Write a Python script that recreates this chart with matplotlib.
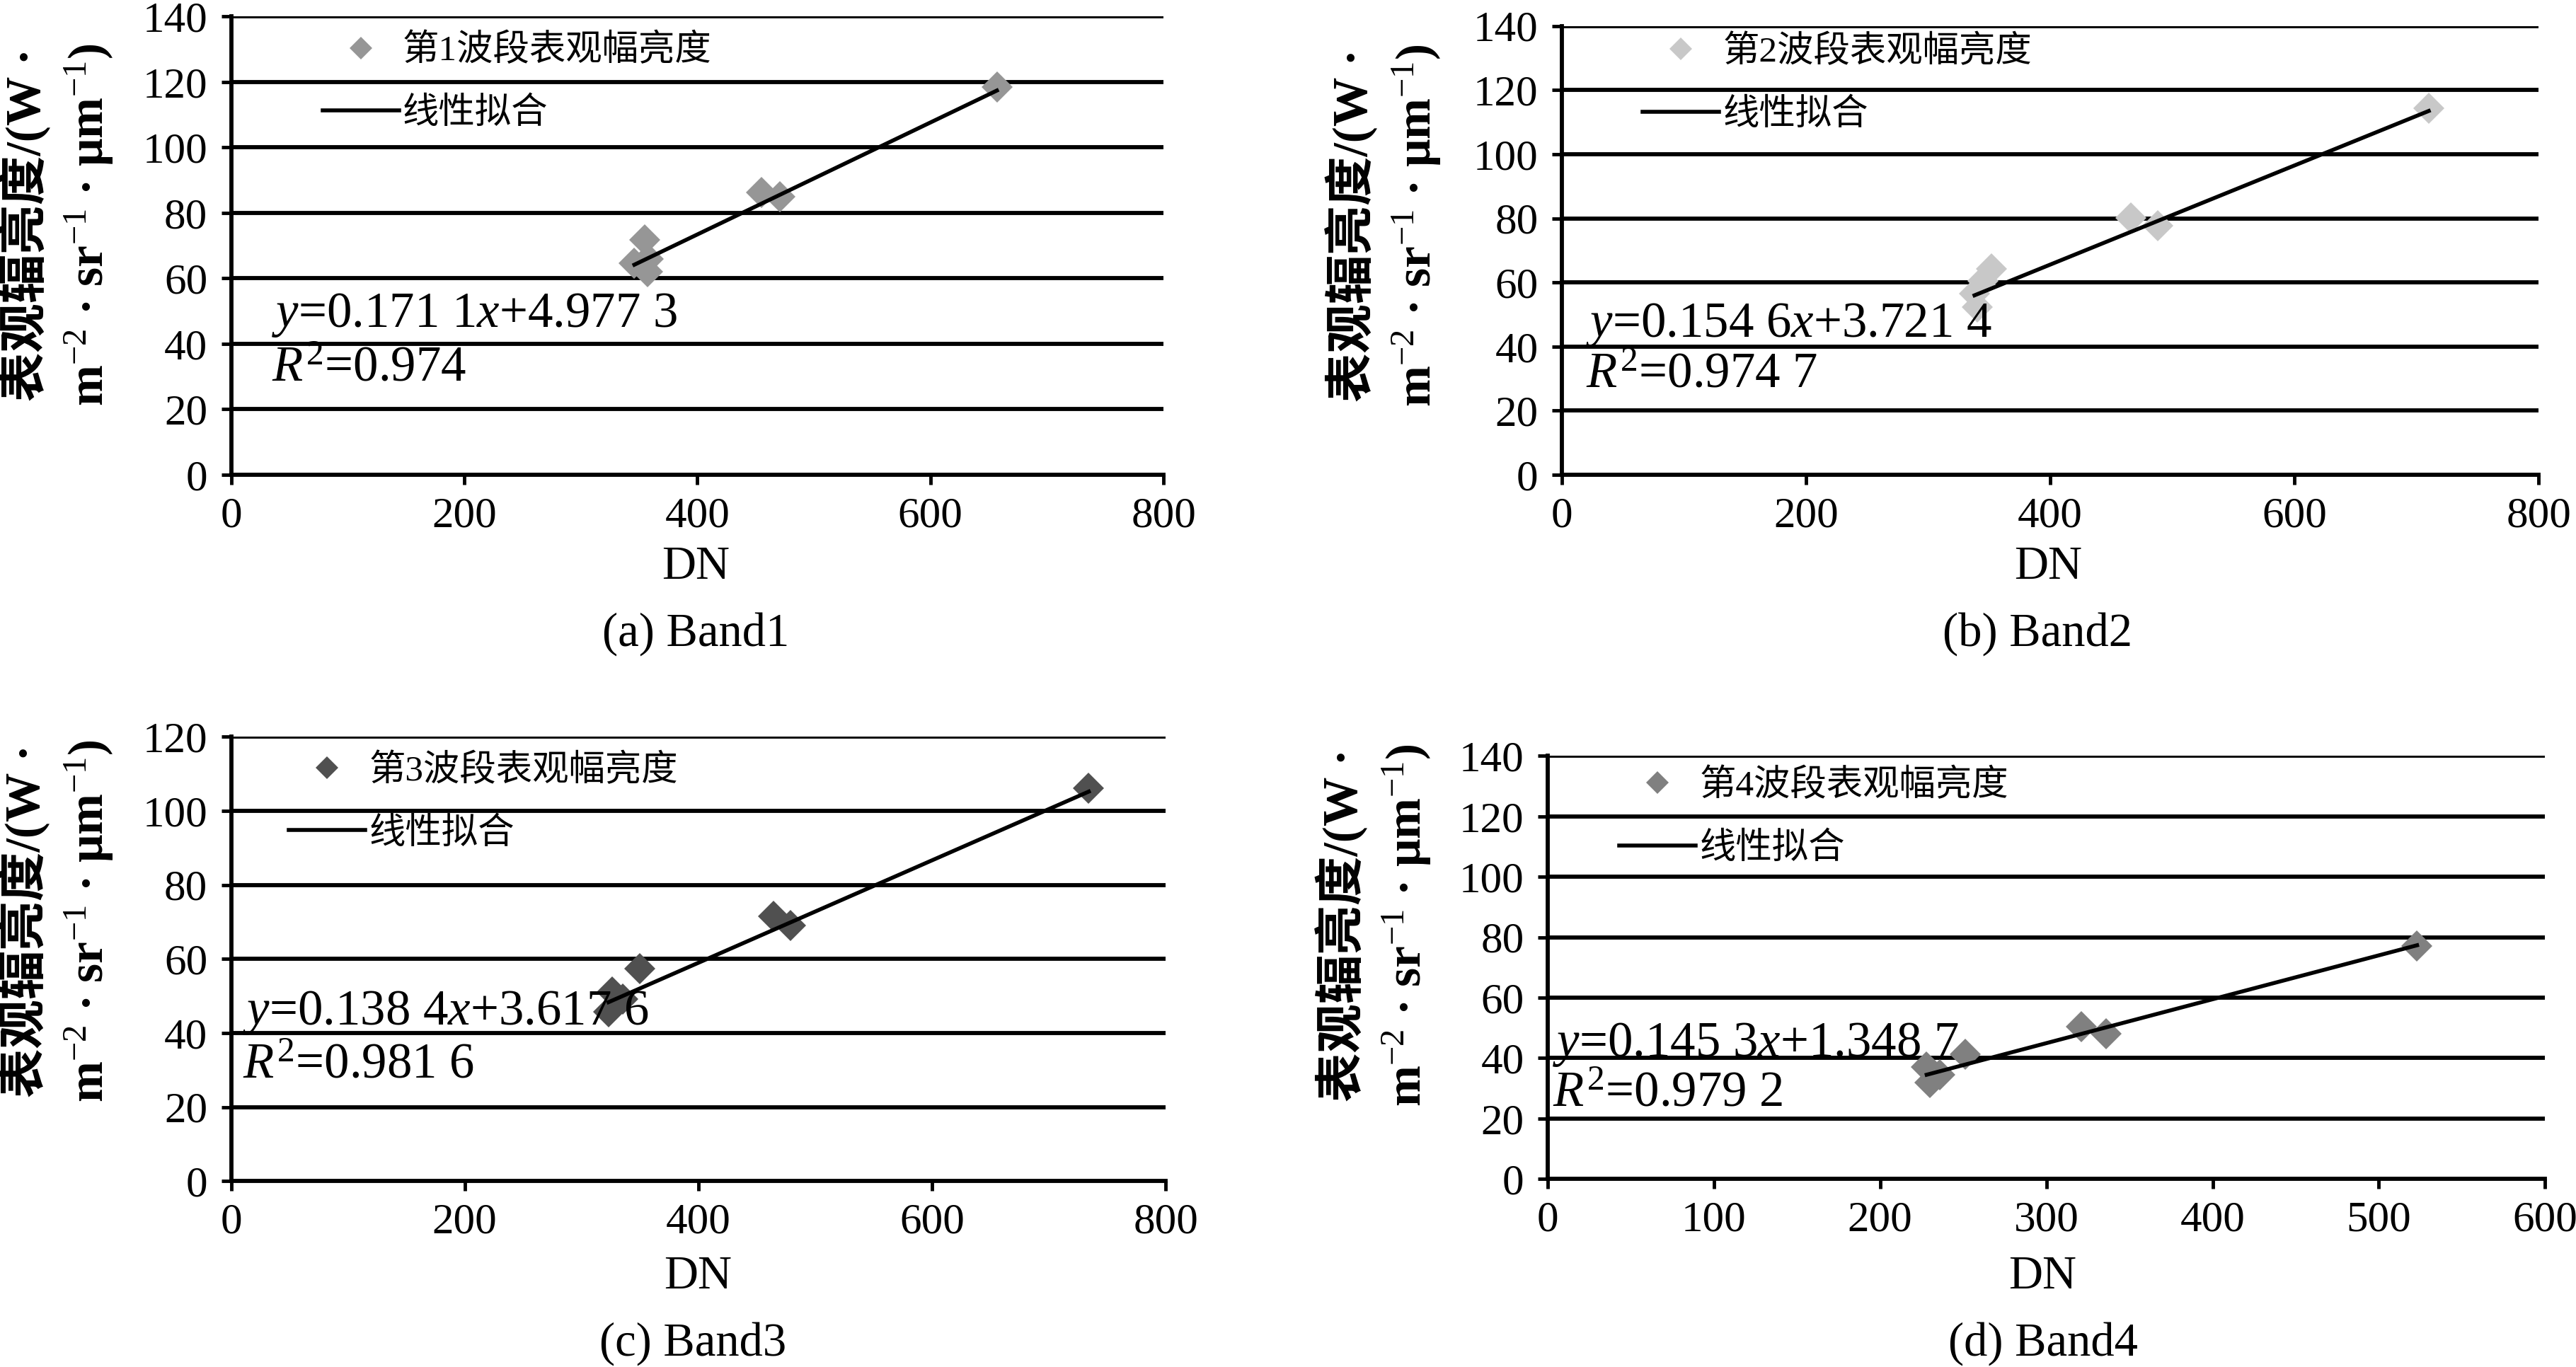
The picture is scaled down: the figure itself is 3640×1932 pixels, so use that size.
import matplotlib
matplotlib.use('Agg')
import matplotlib.pyplot as plt
import numpy as np

plt.rcParams['font.family'] = ['Liberation Serif', 'Noto Sans CJK SC', 'DejaVu Sans']
plt.rcParams['mathtext.fontset'] = 'custom'
plt.rcParams['mathtext.rm'] = 'Liberation Serif'
plt.rcParams['mathtext.it'] = 'Liberation Serif:italic'

# DN vs apparent radiance
band1_dn = [346, 355, 358, 357, 455, 471, 657]
band1_l = [64.6, 71.8, 66.0, 62.0, 86.3, 84.9, 118.4]
band2_dn = [338, 340, 345, 352, 466, 488, 710]
band2_l = [56.5, 52.4, 60.5, 64.3, 80.2, 77.6, 114.4]
band3_dn = [323, 326, 335, 350, 464, 479, 734]
band3_l = [45.7, 51.1, 49.2, 57.3, 71.5, 69.0, 106.1]
band4_dn = [228, 230, 236, 251, 321, 336, 523]
band4_l = [37.0, 31.9, 34.5, 41.3, 50.5, 48.0, 77.1]

slopes = [0.1711, 0.1546, 0.1384, 0.1453]
intercepts = [4.9773, 3.7214, 3.6176, 1.3487]
eq_texts = [r'$y$=0.171 1$x$+4.977 3', r'$y$=0.154 6$x$+3.721 4',
            r'$y$=0.138 4$x$+3.617 6', r'$y$=0.145 3$x$+1.348 7']
r2_texts = [r'$R^2$=0.974', r'$R^2$=0.974 7', r'$R^2$=0.981 6', r'$R^2$=0.979 2']
legend_labels = ['第1波段表观幅亮度', '第2波段表观幅亮度', '第3波段表观幅亮度', '第4波段表观幅亮度']
captions = ['(a) Band1', '(b) Band2', '(c) Band3', '(d) Band4']
colors = ['#969696', '#c8c8c8', '#505050', '#808080']
xmax = [800, 800, 800, 600]
xstep = [200, 200, 200, 100]
ymax = [140, 140, 120, 140]

panels = [
    dict(dn=band1_dn, l=band1_l, rect=[0.0897, 0.6527, 0.3620, 0.3352], eq=(35, 48.7, 32.5),
         leg=(0.098, 0.962), ylab=(-0.124, 0.545), dn_pos=(0.270, 0.585), cap=(0.270, 0.536)),
    dict(dn=band2_dn, l=band2_l, rect=[0.6063, 0.6527, 0.3792, 0.3283], eq=(20, 46.7, 31.1),
         leg=(0.083, 0.98), ylab=(-0.122, 0.555), dn_pos=(0.795, 0.585), cap=(0.791, 0.536)),
    dict(dn=band3_dn, l=band3_l, rect=[0.0897, 0.1360, 0.3629, 0.3250], eq=(10, 45.5, 31.2),
         leg=(0.062, 0.962), ylab=(-0.124, 0.585), dn_pos=(0.271, 0.066), cap=(0.269, 0.017)),
    dict(dn=band4_dn, l=band4_l, rect=[0.6008, 0.1376, 0.3872, 0.3094], eq=(3, 44.5, 28.2),
         leg=(0.072, 0.97), ylab=(-0.115, 0.600), dn_pos=(0.793, 0.066), cap=(0.793, 0.017)),
]

ylabel = '表观辐亮度/(W ·\nm$^{-2}$ · sr$^{-1}$ · μm$^{-1}$)'

fig = plt.figure(figsize=(36.4, 19.32), dpi=100)

for i, p in enumerate(panels):
    ax = fig.add_axes(p['rect'])
    dn = np.array(p['dn'])
    l = np.array(p['l'])
    ax.plot(dn, l, linestyle='none', marker='D', ms=22, color=colors[i],
            markeredgewidth=0, label=legend_labels[i], zorder=3)
    xs = np.array([dn.min(), dn.max()])
    ax.plot(xs, slopes[i] * xs + intercepts[i], color='black', lw=4,
            label='线性拟合', zorder=4)

    ax.set_xlim(0, xmax[i])
    ax.set_ylim(0, ymax[i])
    ax.set_xticks(np.arange(0, xmax[i] + 1, xstep[i]))
    ax.set_yticks(np.arange(0, ymax[i] + 1, 20))
    for y in np.arange(20, ymax[i] + 1, 20):
        ax.axhline(y, color='black', lw=4.2, zorder=1)
    for s in ('top', 'right'):
        ax.spines[s].set_visible(False)
    for s in ('left', 'bottom'):
        ax.spines[s].set_linewidth(4.2)
    ax.tick_params(axis='both', direction='out', length=10, width=3.5, labelsize=44)
    ax.tick_params(axis='y', pad=14)
    ax.tick_params(axis='x', pad=12)

    ax.text(p['eq'][0], p['eq'][1], eq_texts[i], fontsize=51, ha='left', va='center', zorder=5)
    ax.text(p['eq'][0], p['eq'][2], r2_texts[i], fontsize=51, ha='left', va='center', zorder=5)

    ax.legend(loc='upper left', bbox_to_anchor=p['leg'], frameon=False, fontsize=37,
              borderpad=0, borderaxespad=0, handlelength=2.1, handletextpad=0.1,
              labelspacing=0.8, markerscale=0.75)

    ax.set_ylabel(ylabel, fontsize=50, fontweight='bold', linespacing=1.3)
    ax.yaxis.set_label_coords(*p['ylab'])

    fig.text(p['dn_pos'][0], p['dn_pos'][1], 'DN', fontsize=48, ha='center', va='center')
    fig.text(p['cap'][0], p['cap'][1], captions[i], fontsize=48, ha='center', va='center')

fig.savefig('out.png', dpi=100, facecolor='white')
